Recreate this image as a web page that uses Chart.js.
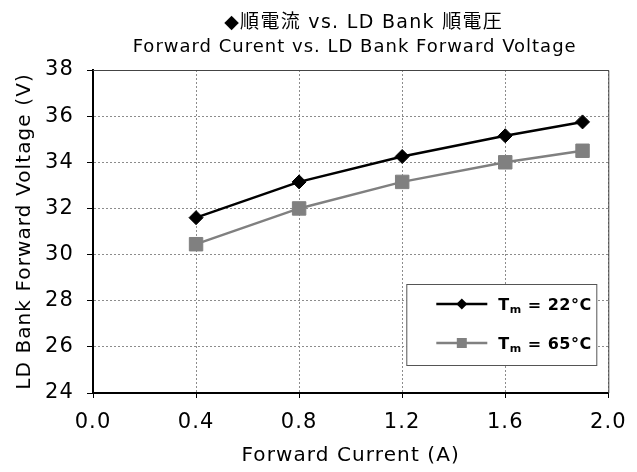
<!DOCTYPE html>
<html>
<head>
<meta charset="utf-8">
<script src="https://cdn.jsdelivr.net/npm/chart.js@4/dist/chart.umd.min.js"></script>
<style>
  html, body { margin: 0; padding: 0; background: #fff; }
  #wrap { width: 637px; height: 472px; }
</style>
</head>
<body>
<div id="wrap"><canvas id="c" width="637" height="472"></canvas></div>
<script>
// Forward current (A) at each measured point
const currents = [0.4, 0.8, 1.2, 1.6, 1.9];
// LD bank forward voltage (V) at Tm = 22 °C and Tm = 65 °C
const voltage22 = [31.6, 33.15, 34.25, 35.15, 35.75];
const voltage65 = [30.45, 32.0, 33.15, 34.0, 34.5];
// Axis tick values
const xTicks = [0.0, 0.4, 0.8, 1.2, 1.6, 2.0];
const yTicks = [24, 26, 28, 30, 32, 34, 36, 38];

const titleLine1 = '◆順電流 vs. LD Bank 順電圧';
const titleLine2 = 'Forward Curent vs. LD Bank Forward Voltage';
const seriesTemps = ['22', '65'];

const FONT = '"DejaVu Sans", Verdana, "Noto Sans CJK JP", sans-serif';

const toPoints = (xs, ys) => xs.map((x, i) => ({ x: x, y: ys[i] }));

// Slightly open letter spacing for all chart text
const spacingPlugin = {
  id: 'spacing',
  beforeDraw(chart) {
    chart.ctx.letterSpacing = '1.1px';
  }
};

// Two-line heading above the plot
const headingPlugin = {
  id: 'heading',
  afterDraw(chart) {
    const { ctx, chartArea } = chart;
    const cx = (chartArea.left + chartArea.right) / 2 + 4;
    ctx.save();
    ctx.fillStyle = '#000';
    ctx.textAlign = 'center';
    ctx.textBaseline = 'middle';
    ctx.letterSpacing = '1.3px';
    ctx.font = '19px ' + FONT;
    ctx.fillText(titleLine1, cx + 9, 23);
    ctx.letterSpacing = '1px';
    ctx.font = '18px ' + FONT;
    ctx.fillText(titleLine2, cx, 47);
    ctx.restore();
  }
};

// Thin frame on the top and right of the plot area
const framePlugin = {
  id: 'frame',
  beforeDatasetsDraw(chart) {
    const { ctx, chartArea: a } = chart;
    ctx.save();
    ctx.strokeStyle = '#444';
    ctx.lineWidth = 1;
    ctx.beginPath();
    ctx.moveTo(a.left, a.top + 0.5);
    ctx.lineTo(a.right + 0.5, a.top + 0.5);
    ctx.lineTo(a.right + 0.5, a.bottom);
    ctx.stroke();
    ctx.restore();
  }
};

// Boxed legend in the lower right of the plot
const boxLegendPlugin = {
  id: 'boxLegend',
  afterDatasetsDraw(chart) {
    const { ctx, chartArea: a } = chart;
    const boxW = 190, boxH = 81;
    const bx = a.right - 12 - boxW;
    const by = a.bottom - 28 - boxH;
    ctx.save();
    ctx.letterSpacing = '0.5px';
    ctx.fillStyle = '#fff';
    ctx.fillRect(bx, by, boxW, boxH);
    ctx.strokeStyle = '#555';
    ctx.lineWidth = 1;
    ctx.strokeRect(bx + 0.5, by + 0.5, boxW, boxH);

    chart.data.datasets.forEach((ds, i) => {
      const y = by + 20 + i * 39;
      const x0 = bx + 30, x1 = bx + 81;
      ctx.strokeStyle = ds.borderColor;
      ctx.lineWidth = ds.borderWidth;
      ctx.beginPath();
      ctx.moveTo(x0, y);
      ctx.lineTo(x1, y);
      ctx.stroke();
      const mx = (x0 + x1) / 2;
      ctx.fillStyle = ds.pointBackgroundColor;
      if (ds.pointStyle === 'rectRot') {
        const r = 5.5;
        ctx.beginPath();
        ctx.moveTo(mx, y - r);
        ctx.lineTo(mx + r, y);
        ctx.lineTo(mx, y + r);
        ctx.lineTo(mx - r, y);
        ctx.closePath();
        ctx.fill();
      } else {
        const s = 5;
        ctx.fillRect(mx - s, y - s, 2 * s, 2 * s);
      }
      // T with subscript m, then the temperature
      ctx.fillStyle = '#000';
      ctx.textAlign = 'left';
      ctx.textBaseline = 'alphabetic';
      let tx = bx + 92;
      const base = y + 6;
      ctx.font = 'bold 16px ' + FONT;
      ctx.fillText('T', tx, base);
      tx += ctx.measureText('T').width;
      ctx.font = 'bold 11px ' + FONT;
      ctx.fillText('m', tx, base + 3);
      tx += ctx.measureText('m').width;
      ctx.font = 'bold 16px ' + FONT;
      ctx.fillText(' = ' + seriesTemps[i] + '°C', tx, base);
    });
    ctx.restore();
  }
};

new Chart(document.getElementById('c'), {
  type: 'line',
  data: {
    datasets: [
      {
        label: 'Tm = 22°C',
        data: toPoints(currents, voltage22),
        borderColor: '#000',
        backgroundColor: '#000',
        pointBackgroundColor: '#000',
        pointBorderColor: '#000',
        borderWidth: 2.5,
        pointStyle: 'rectRot',
        pointRadius: 7,
        pointBorderWidth: 1,
        tension: 0
      },
      {
        label: 'Tm = 65°C',
        data: toPoints(currents, voltage65),
        borderColor: '#808080',
        backgroundColor: '#808080',
        pointBackgroundColor: '#808080',
        pointBorderColor: '#808080',
        borderWidth: 2.5,
        pointStyle: 'rect',
        pointRadius: 9.5,
        pointBorderWidth: 1,
        tension: 0
      }
    ]
  },
  options: {
    responsive: false,
    animation: false,
    layout: { padding: { top: 70, right: 28, left: 0, bottom: 0 } },
    plugins: {
      legend: { display: false },
      title: { display: false },
      tooltip: { enabled: false }
    },
    scales: {
      x: {
        type: 'linear',
        min: 0,
        max: 2,
        afterBuildTicks(scale) { scale.ticks = xTicks.map(v => ({ value: v })); },
        afterFit(scale) { scale.height = 79; },
        ticks: {
          font: { family: FONT, size: 21 },
          color: '#000',
          padding: 12,
          maxRotation: 0,
          callback: v => Number(v).toFixed(1)
        },
        grid: {
          color: '#8c8c8c',
          lineWidth: 1,
          tickColor: '#000',
          tickLength: 5,
          tickWidth: 1,
          tickBorderDash: []
        },
        border: { display: true, color: '#000', width: 2, dash: [2, 2] },
        title: {
          display: true,
          text: 'Forward Current (A)',
          font: { family: FONT, size: 20 },
          color: '#000',
          padding: { top: 0, bottom: 4 }
        }
      },
      y: {
        min: 24,
        max: 38,
        afterBuildTicks(scale) { scale.ticks = yTicks.map(v => ({ value: v })); },
        afterFit(scale) { scale.width = 93; },
        ticks: {
          font: { family: FONT, size: 21 },
          color: '#000',
          padding: 13
        },
        grid: {
          color: '#8c8c8c',
          lineWidth: 1,
          tickColor: '#000',
          tickLength: 6,
          tickWidth: 1,
          tickBorderDash: []
        },
        border: { display: true, color: '#000', width: 2, dash: [2, 2] },
        title: {
          display: true,
          text: 'LD Bank Forward Voltage (V)',
          font: { family: FONT, size: 20 },
          color: '#000',
          padding: { top: 13, bottom: 0 }
        }
      }
    }
  },
  plugins: [spacingPlugin, headingPlugin, framePlugin, boxLegendPlugin]
});
</script>
</body>
</html>
